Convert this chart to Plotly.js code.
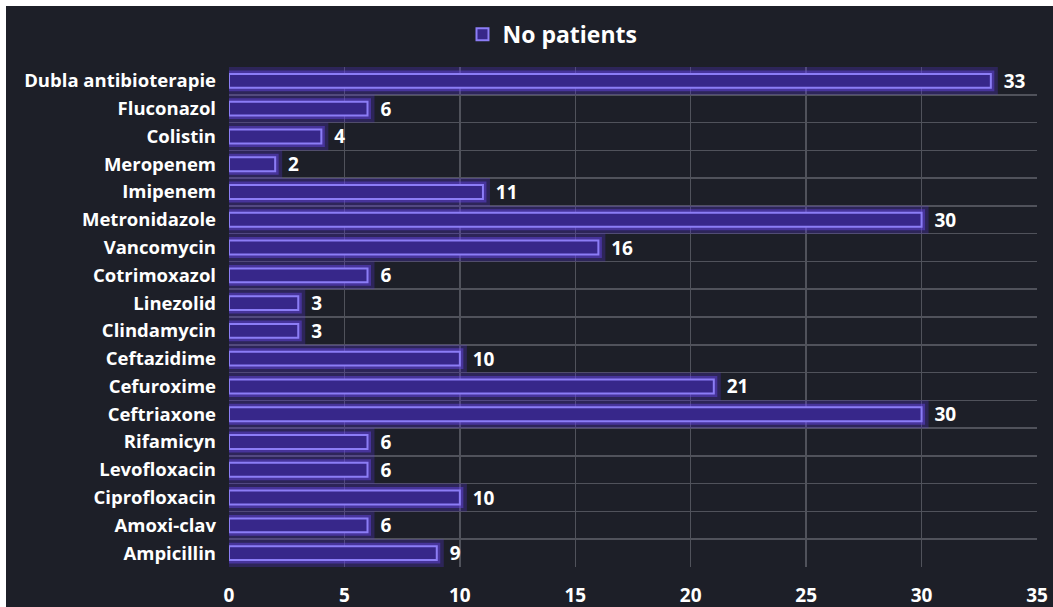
<!DOCTYPE html>
<html>
<head>
<meta charset="utf-8">
<script src="https://cdn.plot.ly/plotly-3.0.1.min.js"></script>
<style>
  html, body { margin: 0; padding: 0; background: #ffffff; }
  #chart { position: absolute; left: 6px; top: 6px; width: 1047px; height: 601px; }
</style>
</head>
<body>
<div id="chart"></div>
<script>
// Antibiotics, listed top to bottom
const drugs = [
  'Dubla antibioterapie', 'Fluconazol', 'Colistin', 'Meropenem', 'Imipenem',
  'Metronidazole', 'Vancomycin', 'Cotrimoxazol', 'Linezolid', 'Clindamycin',
  'Ceftazidime', 'Cefuroxime', 'Ceftriaxone', 'Rifamicyn', 'Levofloxacin',
  'Ciprofloxacin', 'Amoxi-clav', 'Ampicillin'
];
// Number of patients per antibiotic
const patients = [33, 6, 4, 2, 11, 30, 16, 6, 3, 3, 10, 21, 30, 6, 6, 10, 6, 9];
const seriesName = 'No patients';
const xTicks = [0, 5, 10, 15, 20, 25, 30, 35];

const BG = '#1d1f28';
const GRID = '#50525b';
const FONT = '"Open Sans", Lato, sans-serif';

// soft outer halo around each bar
const halo = {
  type: 'bar', orientation: 'h',
  x: patients, y: drugs,
  width: 0.5,
  marker: { color: 'rgba(60,35,160,0.35)', line: { color: 'rgba(90,55,220,0.28)', width: 14 } },
  hoverinfo: 'skip', showlegend: false
};
// inner glow
const glow = {
  type: 'bar', orientation: 'h',
  x: patients, y: drugs,
  width: 0.5,
  marker: { color: 'rgba(60,35,160,0.35)', line: { color: 'rgba(105,70,235,0.45)', width: 7 } },
  hoverinfo: 'skip', showlegend: false
};
// main bars with value labels
const bars = {
  type: 'bar', orientation: 'h',
  name: seriesName,
  x: patients, y: drugs,
  width: 0.5,
  marker: { color: '#37278a', line: { color: '#8c7df6', width: 2 } },
  text: patients,
  texttemplate: '\u00a0\u00a0%{x}',
  textposition: 'outside',
  constraintext: 'none',
  textfont: { family: FONT, size: 19, color: '#ffffff', weight: 'bold' },
  cliponaxis: false
};

const layout = {
  width: 1047, height: 601,
  paper_bgcolor: BG, plot_bgcolor: BG,
  margin: { l: 223, r: 16, t: 61, b: 40, autoexpand: false },
  barmode: 'overlay',
  font: { family: FONT, color: '#ffffff', size: 17, weight: 'bold' },
  showlegend: true,
  legend: {
    orientation: 'h', xref: 'container', yref: 'container',
    x: 0.436, xanchor: 'left', y: 0.953, yanchor: 'middle',
    font: { family: FONT, size: 23, color: '#ffffff', weight: 'bold' },
    bgcolor: 'rgba(0,0,0,0)'
  },
  xaxis: {
    range: [0, 35], tickvals: xTicks, ticktext: xTicks.map(String),
    showgrid: true, gridcolor: GRID, gridwidth: 1.5,
    zeroline: false, showline: false, ticks: '',
    ticklabelstandoff: 15,
    tickfont: { family: FONT, size: 19, color: '#ffffff', weight: 'bold' },
    fixedrange: true
  },
  yaxis: {
    type: 'category', autorange: 'reversed',
    tickson: 'boundaries', showgrid: true, gridcolor: GRID, gridwidth: 1.5,
    zeroline: false, showline: false, ticks: '',
    ticklabelstandoff: 12,
    tickfont: { family: FONT, size: 18.5, color: '#ffffff', weight: 'bold' },
    fixedrange: true
  }
};

Plotly.newPlot('chart', [halo, glow, bars], layout, { displayModeBar: false, staticPlot: true });
</script>
</body>
</html>
